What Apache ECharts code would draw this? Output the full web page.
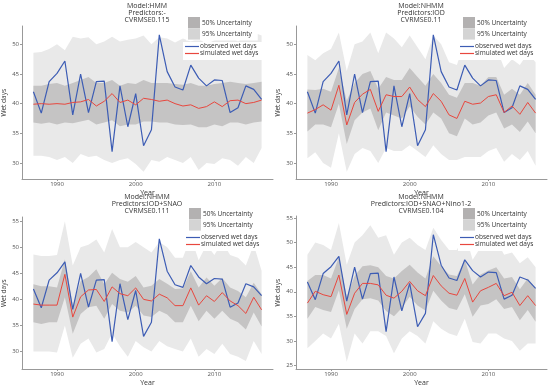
<!DOCTYPE html>
<html><head><meta charset="utf-8">
<script src="https://cdn.jsdelivr.net/npm/echarts@6/dist/echarts.min.js"></script>
<style>html,body{margin:0;padding:0;background:#fff}#c{width:550px;height:387px}</style>
</head><body><div id="c"></div>
<script>
const years = [1987,1988,1989,1990,1991,1992,1993,1994,1995,1996,1997,1998,1999,2000,2001,2002,2003,2004,2005,2006,2007,2008,2009,2010,2011,2012,2013,2014,2015,2016];
const observed = [42.0,38.4,43.7,45.1,47.2,38.1,45.0,38.5,43.7,43.8,31.9,43.0,36.1,41.7,32.9,35.6,51.6,45.4,42.8,42.3,46.5,44.3,43.0,44.0,43.9,38.5,39.3,43.0,42.4,40.7];

const titles = ["Model:HMM\nPredictors:-\nCVRMSE0.115","Model:NHMM\nPredictors:IOD\nCVRMSE0.11","Model:NHMM\nPredictors:IOD+SNAO\nCVRMSE0.111","Model:NHMM\nPredictors:IOD+SNAO+Nino1-2\nCVRMSE0.104"];
const yTicks1 = [30,35,40,45,50];
const yTicks3 = [30,35,40,45,50,55];
const yTicks4 = [25,30,35,40,45,50,55];
const xTicks = [1990,2000,2010];

// Panel 1: HMM
const sim1 = [39.9,40.0,39.9,40.0,39.9,40.2,40.3,40.7,39.6,40.4,41.7,40.2,40.6,39.8,40.9,40.7,40.4,40.6,40.0,39.6,39.8,39.2,39.5,40.3,39.5,40.5,40.6,40.0,40.2,40.6];
const up50_1 = [43.0,43.0,43.3,43.5,43.0,43.5,44.0,44.5,43.5,43.5,44.0,43.0,43.5,43.3,44.0,43.5,43.5,43.5,43.3,43.2,43.5,43.0,43.0,43.3,43.5,43.7,43.5,43.3,43.5,43.7];
const lo50_1 = [36.8,36.6,36.8,36.5,36.8,36.7,37.0,37.3,36.5,36.8,37.2,36.2,36.5,36.5,37.0,37.0,36.8,36.8,36.5,36.4,36.5,36.0,36.0,36.5,36.2,36.8,36.8,36.5,36.8,37.0];
const up95_1 = [48.6,48.7,49.2,50.0,49.0,51.3,51.0,51.2,50.0,50.5,51.3,50.5,50.8,51.0,51.5,50.0,51.2,51.0,50.3,51.0,50.5,51.0,50.0,50.7,51.5,51.3,50.5,51.5,52.0,51.5];
const lo95_1 = [31.2,31.2,31.0,30.5,31.0,30.0,31.5,31.0,31.2,30.5,30.0,30.5,30.8,29.8,28.5,30.5,30.2,31.0,30.5,30.0,31.0,28.8,30.0,29.8,30.8,30.5,29.5,31.0,30.0,32.5];

// Panel 2: NHMM IOD
const sim2 = [38.4,39.0,39.8,38.9,43.1,36.4,40.2,41.6,42.4,38.7,41.5,41.2,41.2,42.8,40.7,39.5,41.7,40.4,38.1,37.5,40.4,39.9,40.1,41.2,41.5,38.5,39.6,38.2,40.2,38.4];
const up50_2 = [42.4,42.3,42.5,42.0,46.0,40.5,43.5,45.0,45.5,42.5,44.5,44.0,44.0,46.0,44.5,43.0,45.0,43.5,41.5,41.0,43.5,43.5,43.0,44.5,44.5,41.5,42.5,41.5,43.5,41.5];
const lo50_2 = [35.3,36.5,36.5,36.0,40.0,33.2,37.2,38.5,39.2,35.5,38.5,38.0,37.5,39.5,37.8,36.5,38.5,37.5,35.0,34.5,37.5,36.5,36.8,38.0,38.5,35.8,36.5,35.2,37.0,35.0];
const up95_2 = [48.2,47.3,48.5,49.2,52.0,45.5,50.0,50.5,52.0,48.5,52.0,51.0,49.5,51.5,49.5,47.5,51.5,50.0,47.0,46.5,50.5,49.0,48.5,50.0,49.5,46.0,47.5,46.5,48.5,47.0];
const lo95_2 = [30.8,31.8,30.0,29.2,35.0,28.5,31.5,32.5,32.0,30.0,32.5,32.0,32.0,33.0,32.0,31.0,33.0,31.5,30.5,30.5,31.0,31.0,31.0,32.0,32.5,30.2,31.5,30.5,32.0,29.5];

// Panel 3: NHMM IOD+SNAO
const sim3 = [39.1,38.9,38.9,38.9,44.8,36.6,40.5,41.8,41.9,39.6,42.4,41.1,40.7,42.2,40.0,39.7,41.0,40.3,38.8,38.8,42.2,38.9,40.7,39.6,41.3,39.7,38.8,37.3,40.4,38.0];
const up50_3 = [42.9,42.5,42.5,42.3,47.7,38.8,43.5,44.3,45.8,42.9,45.1,43.9,43.4,44.5,42.3,42.6,43.9,43.0,42.0,42.1,45.4,42.3,44.2,42.6,44.1,42.3,41.6,40.4,43.2,41.0];
const lo50_3 = [35.6,35.3,35.6,35.6,40.4,33.4,37.2,38.5,38.8,36.3,39.1,37.8,37.5,38.8,36.9,36.6,37.8,37.1,35.6,35.6,38.8,35.8,37.8,36.3,37.8,36.3,35.6,34.2,37.5,34.8];
const up95_3 = [48.6,48.3,48.3,48.5,55.0,46.5,50.0,50.5,51.5,49.0,53.5,50.0,50.0,51.0,50.0,49.0,51.0,50.0,48.0,48.0,52.0,47.5,50.5,48.5,51.0,48.5,48.0,46.5,50.5,45.5];
const lo95_3 = [30.0,30.0,30.0,29.8,35.0,28.8,31.5,32.5,29.8,30.5,33.5,31.0,29.0,32.0,30.8,30.0,32.0,31.0,30.5,30.0,32.5,29.0,30.5,29.5,31.5,29.5,29.0,28.2,32.0,29.5];

// Panel 4: NHMM IOD+SNAO+Nino1-2
const sim4 = [37.7,40.1,39.4,39.0,43.4,35.4,39.7,41.7,41.7,41.4,39.3,38.7,40.1,42.1,40.2,39.2,43.3,41.2,39.7,39.3,42.7,37.9,40.2,40.9,41.7,39.2,39.9,37.2,39.2,37.2];
const up50_4 = [42.2,43.4,43.4,42.7,47.0,39.0,43.2,45.2,45.4,45.0,43.2,42.7,44.2,45.5,43.9,42.7,47.2,45.2,43.5,43.2,46.5,41.5,43.5,44.3,45.0,42.7,43.0,40.5,42.7,40.7];
const lo50_4 = [34.5,36.9,36.3,35.9,40.3,32.5,36.5,38.5,38.7,38.2,36.1,35.0,36.7,39.0,37.2,36.2,40.2,38.2,36.7,36.3,39.5,34.9,37.2,37.5,38.5,36.5,36.9,34.2,36.3,33.9];
const up95_4 = [47.5,50.0,49.5,48.5,54.0,45.5,50.0,51.5,53.5,51.0,51.5,47.5,50.0,51.0,49.5,48.5,53.0,50.5,48.5,48.5,52.0,46.5,49.0,50.5,50.5,47.5,48.0,45.8,47.0,45.0];
const lo95_4 = [28.5,30.0,31.5,30.5,33.5,25.8,31.5,29.5,32.0,32.0,31.0,27.5,30.5,32.0,31.0,29.5,34.0,32.5,31.5,31.0,34.5,29.8,29.5,31.5,31.5,30.5,30.0,28.0,29.5,29.5];

const panels = [
  {sim:sim1, up50:up50_1, lo50:lo50_1, up95:up95_1, lo95:lo95_1, ymin:27.2, ymax:53.1, ticks:yTicks1, grid:{left:21,top:26,width:252,height:153.5}, tx:147, ty:3, lx:186, ly:15},
  {sim:sim2, up50:up50_2, lo50:lo50_2, up95:up95_2, lo95:lo95_2, ymin:27.2, ymax:53.1, ticks:yTicks1, grid:{left:296,top:26,width:251,height:153.5}, tx:421, ty:3, lx:461, ly:15},
  {sim:sim3, up50:up50_3, lo50:lo50_3, up95:up95_3, lo95:lo95_3, ymin:26.55, ymax:55.8, ticks:yTicks3, grid:{left:21,top:217,width:252,height:154.5}, tx:147, ty:194, lx:187, ly:206},
  {sim:sim4, up50:up50_4, lo50:lo50_4, up95:up95_4, lo95:lo95_4, ymin:24.2, ymax:55.4, ticks:yTicks4, grid:{left:296,top:216,width:251,height:155.5}, tx:421, ty:194, lx:461, ly:206}
];

const FONT = "'Open Sans', 'Noto Sans', sans-serif";
const C95 = '#e9e9e9', C50 = '#c5c4c4', CBLUE = '#3c5cb4', CRED = '#e8473e';

function band(upper, lower, color, idx, name) {
  return {
    type:'custom', name:name, xAxisIndex:idx, yAxisIndex:idx, silent:true, z:1,
    data:[[years[0], lower[0]]],
    renderItem:function(params, api){
      const pts = [];
      for (let i=0;i<years.length;i++) pts.push(api.coord([years[i], upper[i]]));
      for (let i=years.length-1;i>=0;i--) pts.push(api.coord([years[i], lower[i]]));
      return {type:'polygon', shape:{points:pts}, style:{fill:color, stroke:null}};
    }
  };
}

const option = {animation:false, backgroundColor:'#fff', textStyle:{fontFamily:FONT},
  title:[], grid:[], xAxis:[], yAxis:[], series:[], legend:[]};

panels.forEach((p, i) => {
  option.title.push({text:titles[i], left:p.tx, top:p.ty, textAlign:'center', padding:0,
    textStyle:{fontSize:7, lineHeight:6.8, fontWeight:'normal', color:'#333', fontFamily:FONT}});
  option.grid.push(p.grid);
  option.xAxis.push({type:'value', gridIndex:i, min:1985.55, max:2017.45, name:'Year', nameLocation:'middle', nameGap:9.5,
    nameTextStyle:{fontSize:7, color:'#333'},
    axisLine:{show:true, onZero:false, lineStyle:{color:'#999', width:1}},
    axisTick:{show:true, length:1.5, customValues:xTicks, lineStyle:{color:'#999'}},
    axisLabel:{fontSize:6, color:'#555', margin:2, customValues:xTicks, formatter:(v)=>String(Math.round(v))},
    splitLine:{show:false}});
  option.yAxis.push({type:'value', gridIndex:i, min:p.ymin, max:p.ymax, name:'Wet days', nameLocation:'middle', nameGap:14,
    nameTextStyle:{fontSize:6.5, color:'#333'},
    axisLine:{show:true, onZero:false, lineStyle:{color:'#999', width:1}},
    axisTick:{show:true, length:2, customValues:p.ticks, lineStyle:{color:'#999'}},
    axisLabel:{fontSize:6, color:'#555', margin:3, customValues:p.ticks, formatter:(v)=>String(Math.round(v))},
    splitLine:{show:false}});
  option.series.push(band(p.up95, p.lo95, C95, i, '95% Uncertainty'));
  option.series.push(band(p.up50, p.lo50, C50, i, '50% Uncertainty'));
  option.series.push({type:'line', name:'observed wet days', xAxisIndex:i, yAxisIndex:i, symbol:'none', z:3,
    data:years.map((y,k)=>[y, observed[k]]), lineStyle:{color:CBLUE, width:1.2}, itemStyle:{color:CBLUE}});
  option.series.push({type:'line', name:'simulated wet days', xAxisIndex:i, yAxisIndex:i, symbol:'none', z:4,
    data:years.map((y,k)=>[y, p.sim[k]]), lineStyle:{color:CRED, width:1}, itemStyle:{color:CRED}});
  option.legend.push({orient:'vertical', left:p.lx, top:p.ly, padding:[2,6,1,2], itemGap:0, itemWidth:12, itemHeight:11.3,
    backgroundColor:'#fff', selectedMode:false,
    textStyle:{fontSize:6.5, color:'#333', padding:[0,0,0,-3]},
    data:[{name:'50% Uncertainty', icon:'rect', itemStyle:{color:'#b3b1b1'}},
          {name:'95% Uncertainty', icon:'rect', itemStyle:{color:'#d4d4d4'}}]});
  option.legend.push({orient:'vertical', left:p.lx-3, top:p.ly+27, padding:[1,8,3,2], itemGap:0, itemWidth:14, itemHeight:10,
    backgroundColor:'#fff', selectedMode:false,
    textStyle:{fontSize:6.5, color:'#333', padding:[0,0,0,-4]},
    data:[{name:'observed wet days', icon:'path://M0,0h14v1.2H0z', itemStyle:{color:CBLUE}},
          {name:'simulated wet days', icon:'path://M0,0h14v1.2H0z', itemStyle:{color:CRED}}]});
});

const chart = echarts.init(document.getElementById('c'), null, {renderer:'canvas'});
chart.setOption(option);
</script></body></html>
